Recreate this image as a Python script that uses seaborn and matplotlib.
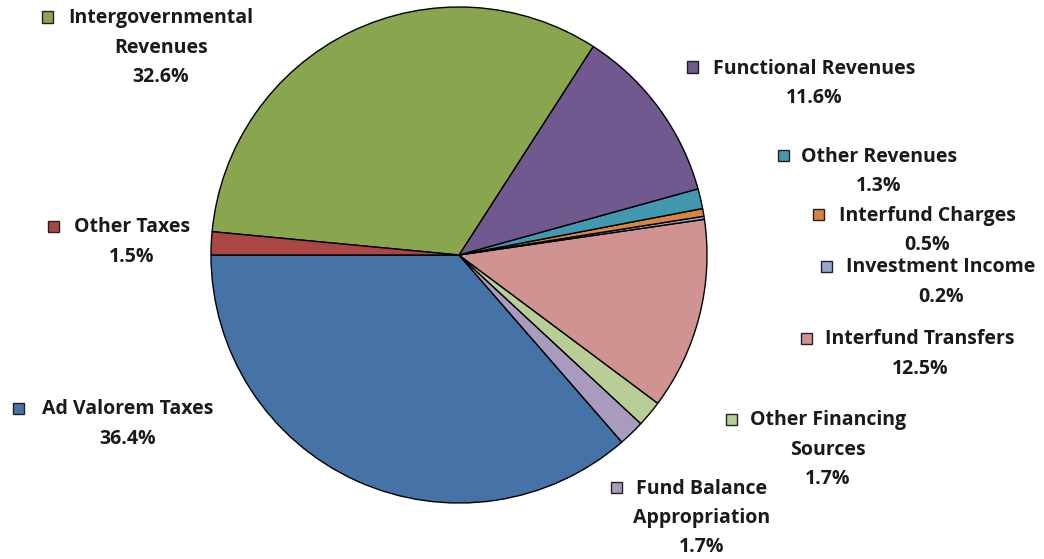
import matplotlib
matplotlib.use("Agg")
import matplotlib.pyplot as plt
from matplotlib.patches import Rectangle
import seaborn as sns

# ---- data ----
categories = ["Ad Valorem Taxes", "Fund Balance Appropriation", "Other Financing Sources",
              "Interfund Transfers", "Investment Income", "Interfund Charges",
              "Other Revenues", "Functional Revenues", "Intergovernmental Revenues",
              "Other Taxes"]
shares = [36.4, 1.7, 1.7, 12.5, 0.2, 0.5, 1.3, 11.6, 32.6, 1.5]
label_lines = [["Ad Valorem Taxes"], ["Fund Balance", "Appropriation"],
               ["Other Financing", "Sources"], ["Interfund Transfers"],
               ["Investment Income"], ["Interfund Charges"], ["Other Revenues"],
               ["Functional Revenues"], ["Intergovernmental", "Revenues"], ["Other Taxes"]]
colors = ["#4572A7", "#A99BBD", "#B9CD96", "#D19392", "#93A9CF", "#DB843D",
          "#4198AF", "#71588F", "#89A54E", "#AA4643"]

# ---- layout (pixels): marker centre x, text centre x, first line centre y ----
label_layout = [(18, 128, 408), (616, 702, 487), (731, 828, 419), (806, 920, 338),
                (826, 941, 266), (818, 927, 214), (783, 879, 155), (692, 814, 67),
                (48, 161, 17), (53, 132, 226)]

sns.set_theme(style="white")
plt.rcParams["font.family"] = ["Open Sans", "DejaVu Sans"]

W, H = 1044, 559
fig = plt.figure(figsize=(W / 100, H / 100), dpi=100)
fig.patch.set_facecolor("white")

cx, cy, r = 459, 255, 248
ax = fig.add_axes([(cx - r) / W, (H - cy - r) / H, 2 * r / W, 2 * r / H])
ax.pie(shares, colors=colors, startangle=180, counterclock=True, radius=1,
       wedgeprops=dict(edgecolor="black", linewidth=1.0))
ax.set_xlim(-1, 1)
ax.set_ylim(-1, 1)
ax.axis("off")

line_gap = 29.5
msize = 11
for lines, val, col, (mx, tx, ty) in zip(label_lines, shares, colors, label_layout):
    all_lines = lines + [f"{val:.1f}%"]
    for i, s in enumerate(all_lines):
        y = ty + i * line_gap
        fig.text(tx / W, 1 - (y + 6.5) / H, s, ha="center", va="baseline",
                 fontsize=14, fontweight="bold", color="#1a1a1a")
    fig.add_artist(Rectangle(((mx - msize / 2) / W, 1 - (ty + msize / 2) / H),
                             msize / W, msize / H, transform=fig.transFigure,
                             facecolor=col, edgecolor="#222222", linewidth=1.0))

fig.savefig("out.png", dpi=100, facecolor="white")
